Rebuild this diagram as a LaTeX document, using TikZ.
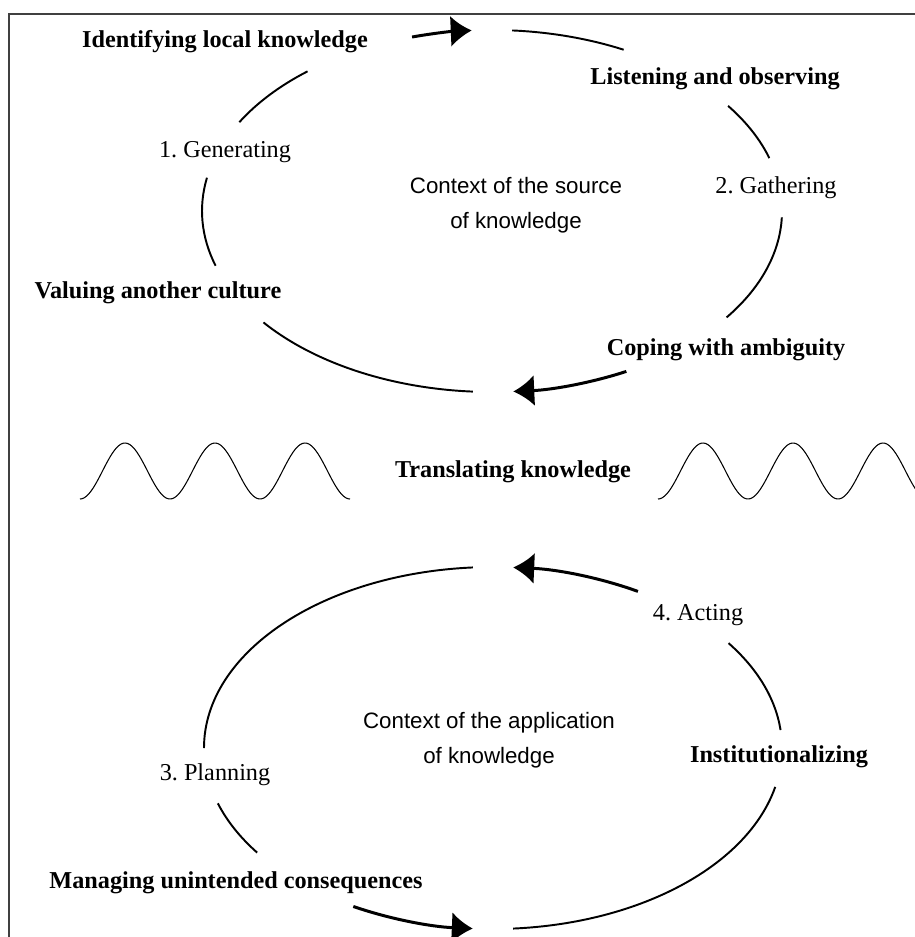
\documentclass[tikz,border=0pt]{standalone}
\usepackage{fontspec}
\setmainfont{Liberation Serif}
\setsansfont{Liberation Sans}
\usepackage{tikz}
\usetikzlibrary{arrows.meta}
\frenchspacing

\begin{document}
\begin{tikzpicture}[x=0.02cm, y=-0.02cm,
    lbl/.style={font=\fontsize{13.8}{16}\selectfont\bfseries},
    stage/.style={font=\fontsize{13.8}{16}\selectfont},
    ctx/.style={font=\sffamily\fontsize{12.7}{20}\selectfont, align=center},
    seg/.style={line width=1.1pt},
    flow/.style={line width=1.7pt, -{Latex[length=0.42cm,width=0.62cm]}},
    wave/.style={line width=0.6pt}]
    \clip (0,0) rectangle (915,937);
    \draw[line width=1.2pt, black!75] (9,14) rectangle (1000,1000);

    \coordinate (top) at (492,211);
    \coordinate (bot) at (493,748);

    \node[lbl] (ident) at (225,42) {Identifying local knowledge};
    \node[lbl] (listen) at (715,79) {Listening and observing};
    \node[stage] (gener) at (225,152) {1. Generating};
    \node[stage] (gather) at (776,188) {2. Gathering};
    \node[ctx] (source) at (516,205) {Context of the source\\of knowledge};
    \node[lbl] (valuing) at (158,293) {Valuing another culture};
    \node[lbl] (coping) at (726,350) {Coping with ambiguity};

    \draw[flow] (top) ++(254:290 and 181) arc[start angle=254, end angle=266, x radius=290, y radius=181];
    \draw[seg] (top) ++(274:290 and 181) arc[start angle=274, end angle=297, x radius=290, y radius=181];
    \draw[seg] (top) ++(324.5:290 and 181) arc[start angle=324.5, end angle=343, x radius=290, y radius=181];
    \draw[seg] (top) ++(2:290 and 181) arc[start angle=2, end angle=36, x radius=290, y radius=181];
    \draw[flow] (top) ++(62.4:290 and 181) arc[start angle=62.4, end angle=85.8, x radius=290, y radius=181];
    \draw[seg] (top) ++(93.8:290 and 181) arc[start angle=93.8, end angle=142, x radius=290, y radius=181];
    \draw[seg] (top) ++(162.4:290 and 181) arc[start angle=162.4, end angle=190.6, x radius=290, y radius=181];
    \draw[seg] (top) ++(209.4:290 and 181) arc[start angle=209.4, end angle=230.5, x radius=290, y radius=181];

    \draw[wave] plot[domain=80:350, samples=120, smooth] (\x, {471+28*cos(4*(\x-80))});
    \node[lbl] (transl) at (513,472) {Translating knowledge};
    \draw[wave] plot[domain=658:928, samples=120, smooth] (\x, {471+28*cos(4*(\x-658))});

    \node[stage] (acting) at (698,615) {4. Acting};
    \node[ctx] (appl) at (489,740) {Context of the application\\of knowledge};
    \node[lbl] (instit) at (779,757) {Institutionalizing};
    \node[stage] (plan) at (215,775) {3. Planning};
    \node[lbl] (manag) at (236,883) {Managing unintended consequences};

    \draw[flow] (bot) ++(-59.9:289 and 181) arc[start angle=-59.9, end angle=-86, x radius=289, y radius=181];
    \draw[seg] (bot) ++(-94:289 and 181) arc[start angle=-94, end angle=-180, x radius=289, y radius=181];
    \draw[seg] (bot) ++(162.2:289 and 181) arc[start angle=162.2, end angle=144.7, x radius=289, y radius=181];
    \draw[flow] (bot) ++(118.9:289 and 181) arc[start angle=118.9, end angle=94, x radius=289, y radius=181];
    \draw[seg] (bot) ++(86:289 and 181) arc[start angle=86, end angle=12.4, x radius=289, y radius=181];
    \draw[seg] (bot) ++(-5.7:289 and 181) arc[start angle=-5.7, end angle=-35.4, x radius=289, y radius=181];
\end{tikzpicture}
\end{document}
